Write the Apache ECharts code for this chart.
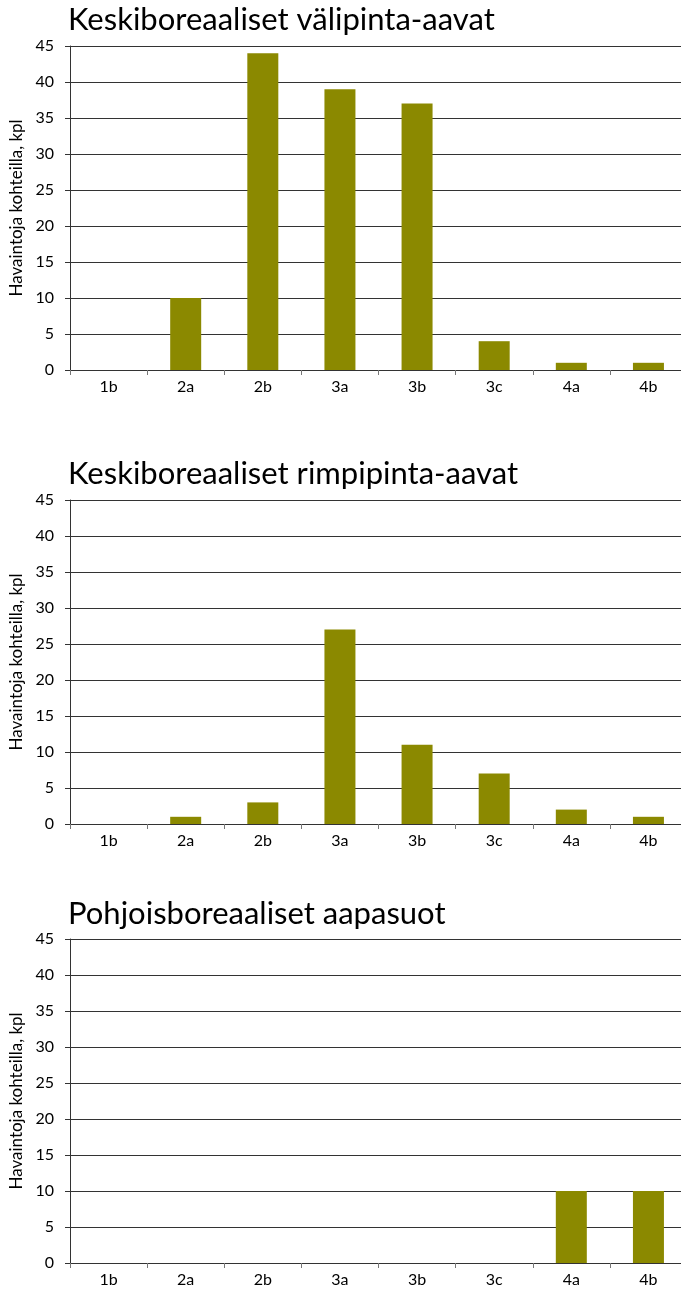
<!DOCTYPE html>
<html>
<head>
<meta charset="utf-8">
<script src="https://cdn.jsdelivr.net/npm/echarts@6/dist/echarts.min.js"></script>
<style>
  html, body { margin: 0; padding: 0; background: #fff; }
  #main { width: 681px; height: 1297px; }
</style>
</head>
<body>
<div id="main"></div>
<script>
// luokat ja havainnot
var categories = ['1b', '2a', '2b', '3a', '3b', '3c', '4a', '4b'];
var valipintaAavat = [0, 10, 44, 39, 37, 4, 1, 1];
var rimpipintaAavat = [0, 1, 3, 27, 11, 7, 2, 1];
var aapasuot = [0, 0, 0, 0, 0, 0, 10, 10];
var titles = ['Keskiboreaaliset välipinta-aavat', 'Keskiboreaaliset rimpipinta-aavat', 'Pohjoisboreaaliset aapasuot'];
var yName = 'Havaintoja kohteilla, kpl';

var FONT = 'Lato, "DejaVu Sans", sans-serif';
var LINE = '#333';
var gridTops = [46, 500, 939];
var titleTops = [-1, 453, 893];
var seriesData = [valipintaAavat, rimpipintaAavat, aapasuot];

var grids = [], xAxes = [], yAxes = [], series = [], titleList = [];
for (var i = 0; i < 3; i++) {
    titleList.push({
        text: titles[i],
        left: 63,
        top: titleTops[i],
        textStyle: { fontFamily: FONT, fontWeight: 'normal', fontSize: 31, color: '#000' }
    });
    grids.push({ left: 70, top: gridTops[i], width: 617, height: 324, containLabel: false, outerBoundsMode: 'none' });
    xAxes.push({
        type: 'category',
        gridIndex: i,
        data: categories,
        axisLine: { show: true, lineStyle: { color: LINE, width: 1 } },
        axisTick: { show: true, length: 5, alignWithLabel: false, lineStyle: { color: '#777' } },
        axisLabel: { fontFamily: FONT, fontSize: 16, color: '#000', margin: 9 },
        splitLine: { show: false }
    });
    yAxes.push({
        type: 'value',
        gridIndex: i,
        min: 0,
        max: 45,
        interval: 5,
        name: yName,
        nameLocation: 'middle',
        nameRotate: 90,
        nameGap: 41,
        nameTextStyle: { fontFamily: FONT, fontSize: 17, color: '#000' },
        axisLine: { show: true, lineStyle: { color: LINE, width: 1 } },
        axisTick: { show: true, length: 5, lineStyle: { color: LINE } },
        axisLabel: { fontFamily: FONT, fontSize: 16, color: '#000', margin: 16 },
        splitLine: { show: true, lineStyle: { color: LINE, width: 1 } }
    });
    series.push({
        type: 'bar',
        xAxisIndex: i,
        yAxisIndex: i,
        data: seriesData[i],
        barWidth: 31,
        itemStyle: { color: '#8b8900' },
        animation: false
    });
}

var myChart = echarts.init(document.getElementById('main'));
myChart.setOption({
    animation: false,
    title: titleList,
    grid: grids,
    xAxis: xAxes,
    yAxis: yAxes,
    series: series
});
</script>
</body>
</html>
